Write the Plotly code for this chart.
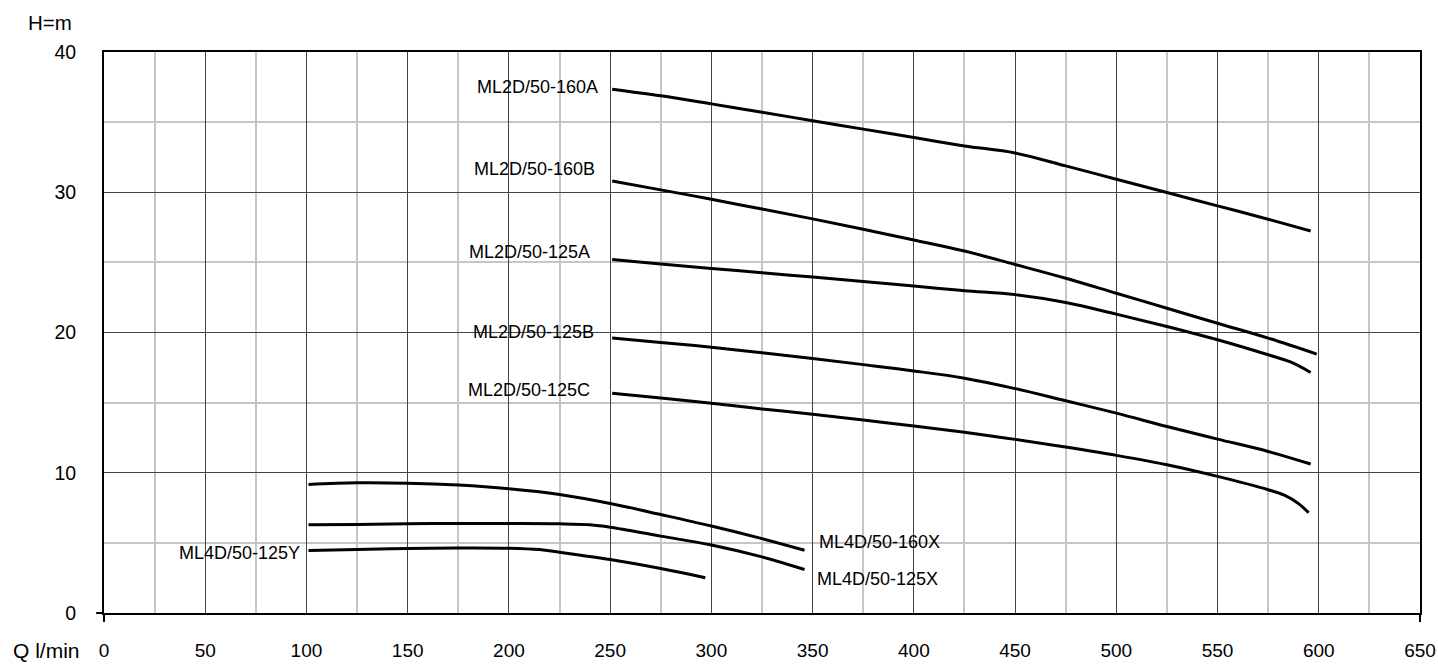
import plotly.graph_objects as go

# ---- data ----
q_160A = [251, 275, 300, 325, 350, 375, 400, 425, 450, 475, 500, 525, 550, 575, 596]
h_160A = [37.35, 36.88, 36.3, 35.7, 35.1, 34.5, 33.9, 33.3, 32.8, 31.88, 30.93, 29.98, 29.03, 28.08, 27.24]

q_160B = [251, 275, 300, 325, 350, 375, 400, 425, 450, 475, 500, 525, 550, 575, 599]
h_160B = [30.8, 30.17, 29.5, 28.8, 28.1, 27.36, 26.6, 25.81, 24.85, 23.87, 22.8, 21.73, 20.66, 19.6, 18.46]

q_125A = [251, 275, 300, 325, 350, 375, 400, 425, 450, 475, 500, 525, 550, 575, 586, 596]
h_125A = [25.2, 24.88, 24.57, 24.26, 23.95, 23.64, 23.31, 22.98, 22.7, 22.14, 21.31, 20.43, 19.48, 18.41, 17.9, 17.15]

q_125B = [251, 275, 300, 325, 350, 375, 400, 425, 450, 475, 500, 525, 550, 575, 596]
h_125B = [19.6, 19.29, 18.95, 18.55, 18.14, 17.71, 17.26, 16.74, 16.0, 15.13, 14.25, 13.3, 12.4, 11.52, 10.62]

q_125C = [251, 275, 300, 325, 350, 375, 400, 425, 450, 475, 500, 525, 550, 575, 583, 590, 595]
h_125C = [15.67, 15.33, 14.95, 14.55, 14.17, 13.76, 13.33, 12.88, 12.38, 11.83, 11.24, 10.57, 9.74, 8.79, 8.4, 7.8, 7.15]

q_160X = [101, 125, 150, 175, 200, 225, 250, 275, 300, 325, 346]
h_160X = [9.17, 9.29, 9.26, 9.12, 8.86, 8.45, 7.81, 7.02, 6.2, 5.3, 4.47]

q_125X = [101, 125, 150, 175, 200, 225, 240, 250, 275, 300, 325, 346]
h_125X = [6.29, 6.31, 6.36, 6.38, 6.38, 6.36, 6.29, 6.12, 5.48, 4.85, 4.0, 3.1]

q_125Y = [101, 125, 150, 175, 200, 215, 225, 250, 275, 297]
h_125Y = [4.45, 4.52, 4.6, 4.64, 4.62, 4.52, 4.33, 3.81, 3.17, 2.52]

series = [
    ("ML2D/50-160A", q_160A, h_160A),
    ("ML2D/50-160B", q_160B, h_160B),
    ("ML2D/50-125A", q_125A, h_125A),
    ("ML2D/50-125B", q_125B, h_125B),
    ("ML2D/50-125C", q_125C, h_125C),
    ("ML4D/50-160X", q_160X, h_160X),
    ("ML4D/50-125X", q_125X, h_125X),
    ("ML4D/50-125Y", q_125Y, h_125Y),
]

# curve labels
label_names = ["ML2D/50-160A", "ML2D/50-160B", "ML2D/50-125A", "ML2D/50-125B",
               "ML2D/50-125C", "ML4D/50-125Y", "ML4D/50-160X", "ML4D/50-125X"]
label_q = [245, 243.5, 241, 243, 241, 98, 352, 351]
label_h = [37.5, 31.66, 25.73, 20.07, 15.92, 4.29, 5.04, 2.39]
label_anchor = ["right", "right", "right", "right", "right", "right", "left", "left"]

FONT = "Liberation Sans, Arial, Helvetica, sans-serif"

fig = go.Figure()
for name, q, h in series:
    fig.add_trace(go.Scatter(
        x=q, y=h, mode="lines", name=name,
        line=dict(color="black", width=3, shape="spline", smoothing=1.0),
        showlegend=False, hoverinfo="x+y+name",
    ))

for t, xq, yh, anc in zip(label_names, label_q, label_h, label_anchor):
    fig.add_annotation(x=xq, y=yh, xref="x", yref="y", text=t, showarrow=False,
                       xanchor=anc, yanchor="middle",
                       font=dict(family=FONT, size=18, color="black"))

fig.add_annotation(x=-0.0225, y=1.053, xref="paper", yref="paper", text="H=m",
                   showarrow=False, xanchor="right", yanchor="middle",
                   font=dict(family=FONT, size=20.5, color="black"))
fig.add_annotation(x=-0.0705, y=-0.066, xref="paper", yref="paper", text="Q l/min",
                   showarrow=False, xanchor="left", yanchor="middle",
                   font=dict(family=FONT, size=21, color="black"))

# small axis extensions at the corners
for sx0, sy0, sx1, sy1 in [(0, 0, 0, -0.016), (1, 0, 1, -0.016), (0, 0, -0.006, 0)]:
    fig.add_shape(type="line", xref="paper", yref="paper", x0=sx0, y0=sy0, x1=sx1, y1=sy1,
                  line=dict(color="black", width=2))

fig.update_layout(
    width=1438, height=664,
    margin=dict(l=104, r=18, t=52, b=51),
    paper_bgcolor="white", plot_bgcolor="white",
    font=dict(family=FONT, size=19, color="black"),
    xaxis=dict(
        range=[0, 650], tick0=0, dtick=50, showgrid=True, gridcolor="#444444", gridwidth=1,
        minor=dict(dtick=25, showgrid=True, gridcolor="#c6c6c6", gridwidth=1.5),
        showline=True, linecolor="black", linewidth=2, mirror=True,
        ticks="", ticklabelstandoff=19, zeroline=False, automargin=False,
        tickfont=dict(family=FONT, size=19, color="black"),
    ),
    yaxis=dict(
        range=[0, 40], tick0=0, dtick=10, showgrid=True, gridcolor="#444444", gridwidth=1,
        minor=dict(dtick=5, showgrid=True, gridcolor="#c6c6c6", gridwidth=1.5),
        showline=True, linecolor="black", linewidth=2, mirror=True,
        ticks="", ticklabelstandoff=22, zeroline=False, automargin=False,
        tickfont=dict(family=FONT, size=19.5, color="black"),
    ),
)

fig.write_html(
    "out.html",
    config={"displayModeBar": False},
    post_script="document.body.style.margin='0';document.body.style.overflow='hidden';",
)
